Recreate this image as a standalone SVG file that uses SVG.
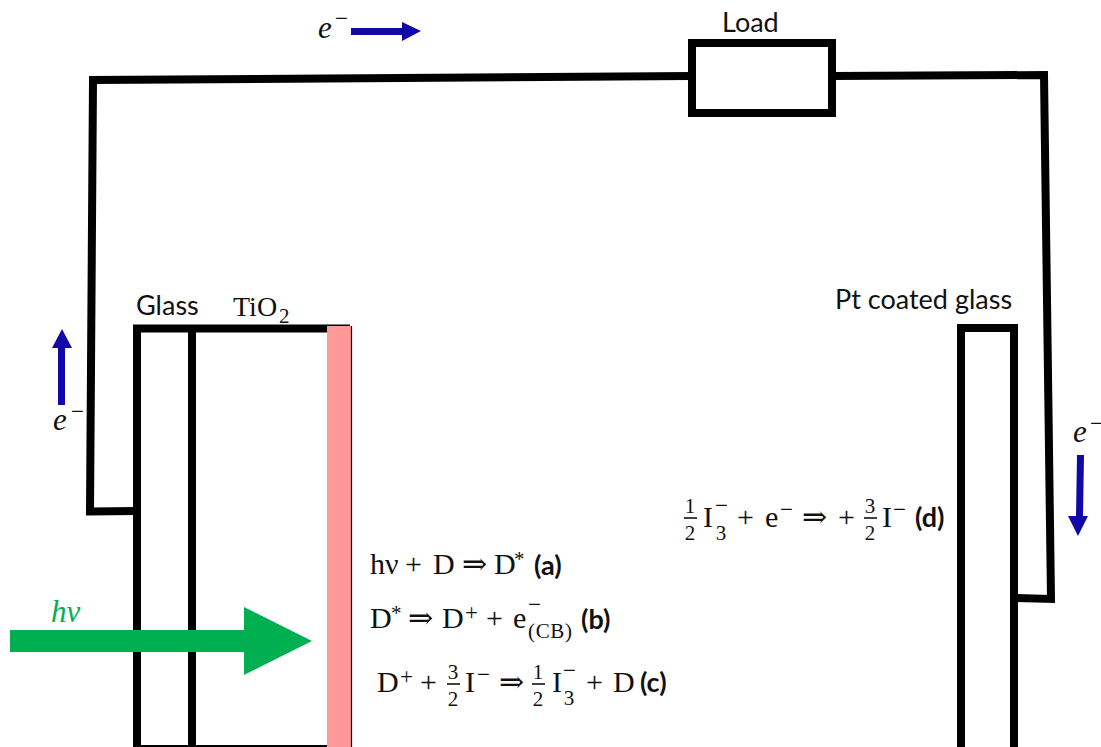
<svg xmlns="http://www.w3.org/2000/svg" width="1101" height="747" viewBox="0 0 1101 747">
<style>
.w{fill:none;stroke:#000;stroke-width:8;stroke-linejoin:miter}
.s{font-family:Lato,"Liberation Sans",sans-serif;font-size:27px;fill:#111}
.b{font-family:Lato,"Liberation Sans",sans-serif;font-size:27px;font-weight:700;fill:#111}
.m{font-family:"Liberation Serif","DejaVu Serif",serif;font-size:30px;fill:#111}
.f{font-family:"Liberation Serif","DejaVu Serif",serif;font-size:21px;fill:#111;text-anchor:middle}
.u{font-family:"Liberation Serif","DejaVu Serif",serif;font-size:23px;fill:#111}
.i{font-family:"Liberation Serif","DejaVu Serif",serif;font-size:31px;font-style:italic;fill:#111}
.bar{stroke:#111;stroke-width:1.600}
.blue{fill:#1207a8}
</style>
<rect width="1101" height="747" fill="#fff"/>
<g id="connectors">
<polyline class="w" points="136,511 90,511.500 93,80 692,76"/>
<polyline class="w" points="832,76 1044,75 1051,599 1016,598"/>
</g>
<g id="load">
<rect class="w" x="692" y="43" width="140" height="70"/>
<text class="s" x="722" y="32">Load</text>
</g>
<g id="tio2-cell">
<polyline class="w" points="137,752 137,328.500 350,328.500"/>
<line x1="137" y1="748" x2="345" y2="748" stroke="#000" stroke-width="6"/>
<line x1="192" y1="328" x2="192" y2="747" stroke="#000" stroke-width="8"/>
<rect x="327" y="326" width="24" height="421" fill="#ff9999"/>
<line x1="351.500" y1="326" x2="351.500" y2="747" stroke="#000" stroke-width="1.200"/>
<text class="s" x="136" y="315">Glass</text>
<text class="m" x="233" y="316" style="font-size:28px">TiO</text><text class="f" x="279" y="323" style="text-anchor:start">2</text>
</g>
<g id="pt-glass">
<rect class="w" x="961" y="328" width="53" height="430"/>
<text class="s" x="835" y="309">Pt coated glass</text>
</g>
<g id="light-arrow">
<polygon fill="#00b050" points="10,630 244,630 244,607 312,641 244,675 244,652 10,652"/>
<text class="i" x="51" y="622" style="fill:#00b050">hν</text>
</g>
<g id="electron-top">
<text class="i" x="318" y="38">e</text><text class="u" x="335" y="26">−</text>
<polygon class="blue" points="351,28 402,28 402,22 421,31 402,41 402,35 351,35"/>
</g>
<g id="electron-left">
<polygon class="blue" points="58,405 65,405 65,348 72,348 62,329 52,348 58,348"/>
<text class="i" x="53" y="430">e</text><text class="u" x="71" y="419">−</text>
</g>
<g id="electron-right">
<text class="i" x="1073" y="442">e</text><text class="u" x="1090" y="431">−</text>
<polygon class="blue" points="1077,455 1084,455 1083,516 1088,516 1078,536 1068,516 1076,516"/>
</g>
<g id="eq-a">
<text class="m" x="370" y="574">hν</text><text class="m" x="405" y="574">+</text><text class="m" x="433" y="574">D</text><text class="m" x="462" y="574">⇒</text><text class="m" x="494" y="574">D</text><text class="f" x="514" y="566" style="text-anchor:start">*</text>
<text class="b" x="534" y="575">(a)</text>
</g>
<g id="eq-b">
<text class="m" x="370" y="628">D</text><text class="f" x="391" y="620" style="text-anchor:start">*</text><text class="m" x="408" y="628">⇒</text><text class="m" x="442" y="628">D</text><text class="u" x="465" y="620">+</text><text class="m" x="486" y="628">+</text><text class="m" x="513" y="628">e</text>
<text class="u" x="528" y="612">−</text>
<text class="f" x="528" y="638" style="text-anchor:start" textLength="44">(CB)</text>
<text class="b" x="581" y="629">(b)</text>
</g>
<g id="eq-c">
<text class="m" x="377" y="692">D</text><text class="u" x="400" y="684">+</text><text class="m" x="420" y="692">+</text>
<text class="f" x="453" y="679">3</text><line class="bar" x1="447" y1="684" x2="460" y2="684"/><text class="f" x="453" y="706">2</text>
<text class="m" x="465" y="692">I</text><text class="u" x="477" y="682">−</text><text class="m" x="499" y="692">⇒</text>
<text class="f" x="538" y="679">1</text><line class="bar" x1="532" y1="684" x2="545" y2="684"/><text class="f" x="538" y="706">2</text>
<text class="m" x="552" y="692">I</text>
<text class="u" x="563" y="678">−</text>
<text class="f" x="569" y="705">3</text>
<text class="m" x="586" y="692">+</text><text class="m" x="613" y="692">D</text>
<text class="b" x="640" y="692">(c)</text>
</g>
<g id="eq-d">
<text class="f" x="690" y="513">1</text><line class="bar" x1="684" y1="518" x2="697" y2="518"/><text class="f" x="690" y="540">2</text>
<text class="m" x="703" y="527">I</text>
<text class="u" x="715" y="513">−</text>
<text class="f" x="721" y="540">3</text>
<text class="m" x="737" y="527">+</text><text class="m" x="765" y="527">e</text>
<text class="u" x="780" y="517">−</text>
<text class="m" x="802" y="527">⇒</text><text class="m" x="838" y="527">+</text>
<text class="f" x="870" y="513">3</text><line class="bar" x1="864" y1="518" x2="877" y2="518"/><text class="f" x="870" y="540">2</text>
<text class="m" x="882" y="527">I</text>
<text class="u" x="893" y="517">−</text>
<text class="b" x="915" y="527">(d)</text>
</g>
</svg>
